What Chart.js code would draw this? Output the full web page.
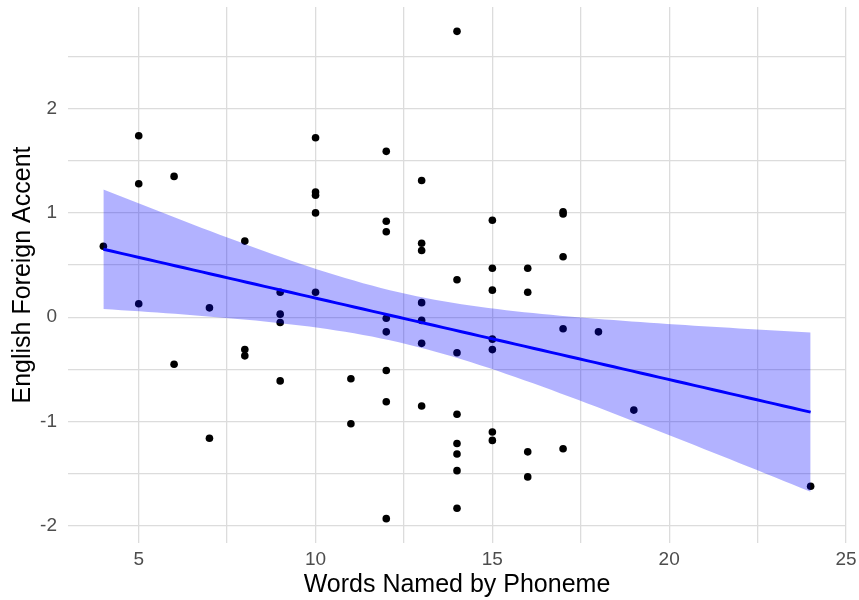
<!DOCTYPE html>
<html>
<head>
<meta charset="utf-8">
<title>English Foreign Accent vs Words Named by Phoneme</title>
<script src="https://cdn.jsdelivr.net/npm/chart.js@4/dist/chart.umd.min.js"></script>
<style>
  html, body { margin: 0; padding: 0; background: #ffffff; }
  #wrap { width: 859px; height: 600px; }
</style>
</head>
<body>
<div id="wrap"><canvas id="chart" width="859" height="600"></canvas></div>
<script>
// Observations: number of words named by phoneme and the English foreign-accent score
const words = [
  4,
  5, 5, 5,
  6, 6,
  7, 7,
  8, 8, 8,
  9, 9, 9, 9,
  10, 10, 10, 10, 10,
  11, 11,
  12, 12, 12, 12, 12, 12, 12, 12,
  13, 13, 13, 13, 13, 13, 13,
  14, 14, 14, 14, 14, 14, 14, 14,
  15, 15, 15, 15, 15, 15, 15,
  16, 16, 16, 16,
  17, 17, 17, 17, 17,
  18,
  19,
  24
];
const accent = [
  0.68,
  1.74, 1.28, 0.13,
  1.35, -0.45,
  0.09, -1.16,
  0.73, -0.31, -0.37,
  0.24, 0.03, -0.05, -0.61,
  1.72, 1.20, 1.17, 1.00, 0.24,
  -0.59, -1.02,
  1.59, 0.92, 0.82, -0.01, -0.14, -0.51, -0.81, -1.93,
  1.31, 0.71, 0.64, 0.14, -0.03, -0.25, -0.85,
  2.74, 0.36, -0.34, -0.93, -1.21, -1.31, -1.47, -1.83,
  0.93, 0.47, 0.26, -0.21, -0.31, -1.10, -1.18,
  0.47, 0.24, -1.29, -1.53,
  1.01, 0.99, 0.58, -0.11, -1.26,
  -0.14,
  -0.89,
  -1.62
];

// Axis breaks (labelled) and the in-between grid lines
const xBreaks = [5, 10, 15, 20, 25];
const xMinorBreaks = [7.5, 12.5, 17.5, 22.5];
const yBreaks = [-2, -1, 0, 1, 2];
const yMinorBreaks = [-1.5, -0.5, 0.5, 1.5, 2.5];

const xTitle = 'Words Named by Phoneme';
const yTitle = 'English Foreign Accent';

// ---- linear model fit with 95% confidence band ----
const n = words.length;
const mean = a => a.reduce((s, v) => s + v, 0) / a.length;
const mx = mean(words), my = mean(accent);
let sxx = 0, sxy = 0;
for (let i = 0; i < n; i++) {
  sxx += (words[i] - mx) ** 2;
  sxy += (words[i] - mx) * (accent[i] - my);
}
const slope = sxy / sxx;
const intercept = my - slope * mx;
let sse = 0;
for (let i = 0; i < n; i++) sse += (accent[i] - (intercept + slope * words[i])) ** 2;
const sigma = Math.sqrt(sse / (n - 2));
const tCrit = 1.999; // t quantile 0.975, 62 df

const xMin = Math.min(...words), xMax = Math.max(...words);
const nGrid = 80;
const fitPts = [], upperPts = [], lowerPts = [];
for (let k = 0; k < nGrid; k++) {
  const x = xMin + (xMax - xMin) * k / (nGrid - 1);
  const yhat = intercept + slope * x;
  const se = sigma * Math.sqrt(1 / n + (x - mx) ** 2 / sxx);
  fitPts.push({ x, y: yhat });
  upperPts.push({ x, y: yhat + tCrit * se });
  lowerPts.push({ x, y: yhat - tCrit * se });
}

// panel limits with 5% expansion of the data range
const yLo = Math.min(...accent, ...lowerPts.map(p => p.y));
const yHi = Math.max(...accent, ...upperPts.map(p => p.y));
const xPad = 0.05 * (xMax - xMin), yPad = 0.05 * (yHi - yLo);

const tickFont = { family: '"Liberation Sans", Arial, sans-serif', size: 19 };
const titleFont = { family: '"Liberation Sans", Arial, sans-serif', size: 25 };
const gridColor = '#dcdcdc';

function setBreaks(major, minor) {
  return scale => {
    scale.ticks = [...major, ...minor].sort((a, b) => a - b).map(v => ({ value: v }));
  };
}

new Chart(document.getElementById('chart'), {
  type: 'scatter',
  data: {
    datasets: [
      {
        label: 'observations',
        data: words.map((x, i) => ({ x, y: accent[i] })),
        backgroundColor: '#000000',
        borderWidth: 0,
        pointRadius: 3.8,
        order: 3
      },
      {
        label: 'upper',
        type: 'line',
        data: upperPts,
        borderWidth: 0,
        borderColor: 'rgba(0,0,0,0)',
        pointRadius: 0,
        fill: false,
        order: 2
      },
      {
        label: 'lower',
        type: 'line',
        data: lowerPts,
        borderWidth: 0,
        borderColor: 'rgba(0,0,0,0)',
        backgroundColor: 'rgba(0,0,255,0.3)',
        pointRadius: 0,
        fill: '-1',
        order: 2
      },
      {
        label: 'fit',
        type: 'line',
        data: fitPts,
        borderColor: '#0000ff',
        borderWidth: 3,
        pointRadius: 0,
        fill: false,
        order: 1
      }
    ]
  },
  options: {
    responsive: false,
    animation: false,
    devicePixelRatio: 1,
    layout: { padding: { top: 7, right: 13, left: 0, bottom: 0 } },
    plugins: { legend: { display: false }, tooltip: { enabled: false } },
    scales: {
      x: {
        type: 'linear',
        min: xMin - xPad,
        max: xMax + xPad,
        afterBuildTicks: setBreaks(xBreaks, xMinorBreaks),
        afterFit: s => { s.height = 57; s.paddingLeft = 0; s.paddingRight = 0; },
        border: { display: false },
        grid: { color: gridColor, lineWidth: 1.3, drawTicks: false },
        ticks: {
          autoSkip: false,
          maxRotation: 0,
          padding: 5,
          color: '#4d4d4d',
          font: tickFont,
          callback: v => (xBreaks.includes(v) ? String(v) : '')
        },
        title: { display: true, text: xTitle, color: '#000000', font: titleFont, padding: { top: 8, bottom: 0 } }
      },
      y: {
        type: 'linear',
        min: yLo - yPad,
        max: yHi + yPad,
        afterBuildTicks: setBreaks(yBreaks, yMinorBreaks),
        afterFit: s => { s.width = 68; s.paddingTop = 0; s.paddingBottom = 0; },
        border: { display: false },
        grid: { color: gridColor, lineWidth: 1.3, drawTicks: false },
        ticks: {
          autoSkip: false,
          padding: 11,
          color: '#4d4d4d',
          font: tickFont,
          callback: v => (yBreaks.includes(v) ? String(v) : '')
        },
        title: { display: true, text: yTitle, color: '#000000', font: titleFont, padding: { top: 8, bottom: 0 } }
      }
    }
  }
});
</script>
</body>
</html>
